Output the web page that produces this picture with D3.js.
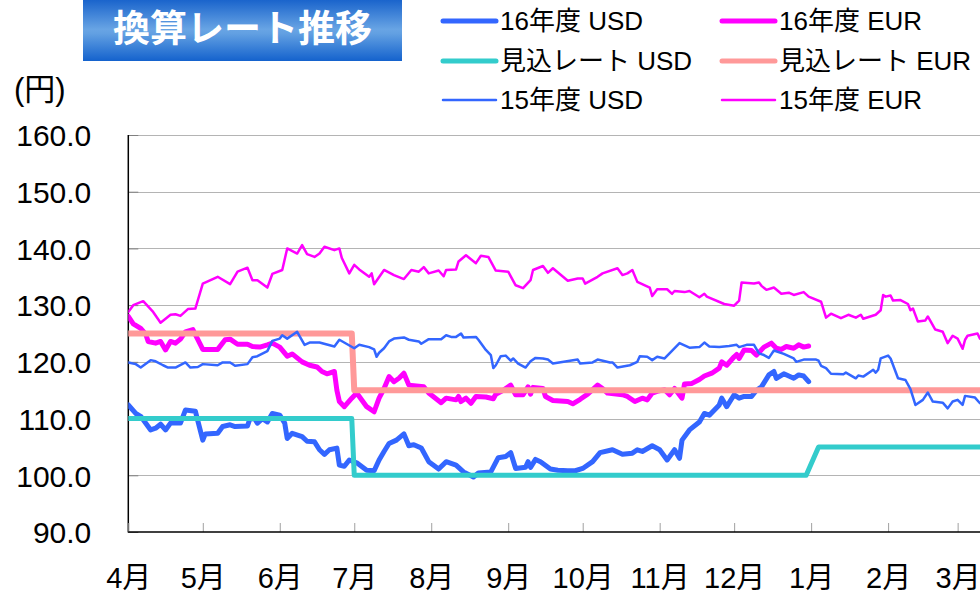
<!DOCTYPE html>
<html><head><meta charset="utf-8">
<script src="https://cdn.jsdelivr.net/npm/d3@7/dist/d3.min.js"></script>
<style>
html,body{margin:0;padding:0;background:#fff;}
svg{display:block;}
text{font-family:"Liberation Sans","Noto Sans CJK JP",Arial,sans-serif;fill:#000;}
</style></head>
<body><svg id="c" width="980" height="596"></svg>
<script>
// ---- data (MM-DD within fiscal year Apr 2016 - Mar 2017) ----
const monthLabels = ["4月","5月","6月","7月","8月","9月","10月","11月","12月","1月","2月","3月"];
const yTicks = [90,100,110,120,130,140,150,160];
const titleText = "換算レート推移";
const unitText = "(円)";

const usd16 = [["04-01",112.4],["04-04",110.9],["04-06",110.4],["04-10",108.0],["04-12",108.3],["04-14",109.0],["04-16",108.0],["04-18",109.2],["04-22",109.2],["04-24",111.5],["04-28",111.3],["05-01",106.2],["05-02",107.3],["05-07",107.4],["05-09",108.6],["05-12",108.9],["05-14",108.6],["05-19",108.7],["05-20",110.0],["05-22",109.9],["05-23",109.2],["05-25",110.0],["05-27",109.4],["05-29",110.9],["06-01",110.6],["06-03",109.2],["06-04",106.5],["06-06",107.4],["06-10",106.8],["06-12",106.0],["06-15",105.9],["06-17",104.5],["06-19",103.7],["06-21",104.5],["06-24",104.8],["06-25",101.8],["06-27",101.6],["06-29",102.7],["07-02",102.2],["07-06",100.9],["07-09",100.8],["07-11",102.7],["07-13",104.2],["07-15",105.6],["07-18",106.2],["07-21",107.3],["07-23",105.2],["07-25",105.4],["07-28",104.8],["07-31",102.4],["08-04",101.1],["08-07",102.4],["08-11",101.8],["08-14",100.6],["08-18",99.7],["08-20",100.4],["08-25",100.6],["08-28",103.1],["08-31",103.3],["09-02",104.0],["09-04",101.2],["09-08",101.4],["09-09",102.4],["09-10",101.4],["09-12",102.8],["09-14",102.4],["09-18",101.1],["09-21",100.9],["09-25",100.8],["09-28",100.8],["10-01",101.2],["10-05",102.4],["10-08",104.0],["10-13",104.5],["10-17",103.7],["10-21",103.9],["10-23",104.5],["10-25",104.2],["10-29",105.2],["11-01",104.5],["11-04",102.7],["11-07",104.5],["11-09",103.0],["11-10",106.2],["11-13",108.0],["11-17",109.4],["11-19",110.9],["11-21",110.6],["11-25",112.4],["11-26",113.6],["11-28",112.1],["12-01",114.2],["12-03",113.6],["12-05",113.9],["12-08",113.9],["12-10",115.0],["12-12",115.6],["12-15",117.7],["12-17",118.3],["12-18",117.1],["12-21",117.9],["12-25",117.1],["12-27",117.7],["12-29",117.5],["12-31",116.5]];

const eur16 = [["04-01",128.0],["04-03",126.7],["04-06",125.9],["04-08",124.9],["04-09",123.6],["04-12",123.3],["04-14",123.6],["04-16",122.1],["04-18",123.6],["04-20",123.3],["04-22",124.0],["04-24",125.3],["04-27",125.7],["05-01",122.2],["05-07",122.2],["05-10",123.9],["05-12",124.0],["05-15",123.1],["05-19",123.1],["05-21",122.7],["05-24",122.6],["05-27",123.0],["05-29",123.3],["06-01",122.6],["06-04",121.0],["06-06",121.4],["06-10",120.0],["06-13",119.4],["06-16",119.1],["06-18",118.3],["06-20",117.9],["06-23",118.3],["06-24",115.0],["06-25",113.0],["06-27",112.1],["06-30",113.6],["07-02",114.5],["07-06",112.1],["07-09",111.2],["07-11",113.6],["07-13",115.3],["07-15",117.4],["07-17",116.5],["07-19",117.1],["07-21",118.0],["07-23",115.9],["07-27",115.7],["07-29",115.6],["07-31",114.5],["08-05",112.8],["08-07",113.6],["08-11",113.3],["08-12",113.9],["08-13",113.0],["08-15",113.6],["08-17",112.7],["08-19",113.9],["08-23",113.8],["08-26",113.5],["08-27",114.3],["08-30",115.0],["09-02",115.9],["09-04",114.2],["09-07",114.2],["09-09",115.6],["09-10",114.3],["09-11",115.5],["09-15",115.3],["09-16",113.9],["09-19",113.2],["09-25",113.0],["09-27",112.6],["09-30",113.4],["10-03",114.3],["10-07",115.9],["10-09",115.3],["10-11",114.5],["10-17",114.2],["10-19",113.9],["10-22",113.0],["10-25",113.6],["10-27",113.3],["10-29",114.5],["10-31",114.8],["11-03",115.1],["11-05",114.2],["11-07",115.3],["11-10",113.6],["11-11",116.1],["11-14",116.2],["11-17",116.9],["11-19",117.5],["11-22",118.0],["11-25",118.9],["11-26",120.0],["11-28",119.4],["12-01",120.9],["12-02",121.3],["12-03",120.6],["12-05",122.1],["12-08",122.0],["12-10",121.2],["12-13",122.6],["12-16",123.3],["12-18",122.4],["12-20",122.2],["12-22",122.7],["12-25",122.4],["12-27",123.0],["12-29",122.6],["12-31",122.8]];

const usdPlan = [["04-01",110],["06-30",110],["07-01",100],["12-30",100],["01-04",105],["03-31",105]];
const eurPlan = [["04-01",125],["06-30",125],["07-01",115],["03-31",115]];

const usd15 = [["04-01",119.9],["04-04",119.6],["04-06",119.0],["04-10",120.3],["04-12",120.1],["04-15",119.4],["04-17",119.0],["04-20",119.0],["04-24",119.9],["04-26",119.0],["04-29",119.1],["05-01",119.6],["05-07",119.4],["05-09",119.9],["05-12",119.9],["05-14",119.3],["05-19",119.6],["05-21",120.8],["05-23",121.0],["05-27",121.9],["05-29",123.7],["06-01",124.1],["06-02",124.7],["06-04",124.1],["06-08",125.3],["06-11",123.0],["06-13",123.4],["06-17",123.4],["06-23",122.7],["06-25",123.9],["07-01",122.4],["07-03",123.0],["07-07",122.6],["07-09",122.2],["07-10",120.9],["07-11",121.6],["07-13",122.4],["07-15",123.6],["07-17",124.1],["07-21",124.3],["07-23",123.9],["07-27",123.6],["07-28",123.2],["07-31",124.0],["08-05",124.0],["08-07",124.7],["08-09",124.4],["08-11",124.4],["08-13",125.0],["08-14",124.3],["08-19",124.4],["08-20",123.9],["08-23",122.1],["08-25",121.2],["08-26",118.9],["08-27",119.4],["08-29",121.0],["08-31",121.1],["09-02",120.2],["09-03",120.6],["09-05",119.7],["09-08",119.0],["09-10",120.1],["09-12",120.7],["09-15",120.6],["09-17",120.4],["09-19",119.7],["09-29",120.4],["09-30",119.7],["10-05",119.9],["10-07",120.4],["10-12",119.9],["10-13",119.9],["10-15",119.0],["10-20",119.4],["10-23",120.0],["10-24",121.0],["10-27",120.9],["10-29",120.3],["10-31",120.9],["11-03",120.6],["11-09",123.3],["11-13",122.5],["11-17",122.6],["11-19",123.4],["11-21",122.7],["11-25",122.6],["11-29",122.8],["12-02",123.0],["12-03",122.6],["12-06",123.0],["12-09",123.0],["12-11",121.5],["12-13",121.2],["12-15",120.7],["12-17",122.0],["12-21",121.4],["12-25",120.6],["12-26",120.0],["12-29",120.4],["01-03",120.4],["01-04",120.2],["01-05",119.3],["01-07",118.9],["01-09",117.9],["01-14",117.8],["01-15",118.1],["01-19",117.1],["01-20",117.6],["01-22",117.4],["01-25",118.3],["01-26",118.6],["01-27",118.1],["01-28",118.6],["01-29",120.6],["02-01",121.1],["02-02",120.6],["02-05",117.1],["02-08",116.8],["02-10",115.2],["02-12",112.4],["02-15",113.3],["02-17",114.6],["02-19",113.0],["02-23",112.8],["02-25",111.8],["02-27",113.0],["03-01",113.3],["03-03",112.4],["03-04",114.0],["03-08",113.7],["03-10",112.7],["03-13",113.0]];

const eur15 = [["04-01",128.8],["04-03",130.0],["04-07",130.7],["04-11",128.8],["04-14",126.9],["04-18",128.3],["04-20",128.4],["04-22",128.1],["04-25",129.3],["04-28",129.4],["05-01",133.8],["05-07",135.0],["05-12",133.7],["05-15",135.9],["05-19",136.6],["05-21",134.4],["05-23",134.4],["05-27",133.1],["05-29",135.5],["06-02",136.2],["06-04",140.0],["06-08",139.1],["06-10",140.6],["06-12",139.0],["06-15",138.5],["06-17",139.1],["06-19",140.3],["06-23",139.7],["06-25",140.0],["06-26",138.3],["06-29",135.6],["07-01",137.1],["07-03",136.3],["07-07",135.0],["07-08",135.6],["07-09",133.7],["07-13",136.2],["07-17",135.3],["07-21",134.6],["07-24",136.2],["07-27",135.9],["07-29",136.7],["07-31",135.6],["08-04",136.1],["08-06",135.1],["08-07",136.2],["08-11",136.3],["08-12",137.7],["08-15",138.8],["08-19",137.4],["08-21",138.7],["08-24",138.5],["08-27",136.1],["09-01",135.9],["09-04",133.5],["09-07",133.0],["09-10",134.4],["09-11",136.2],["09-15",136.9],["09-17",135.7],["09-19",136.5],["09-25",134.3],["09-29",134.7],["10-01",134.7],["10-02",133.8],["10-07",135.0],["10-09",135.6],["10-15",136.5],["10-17",135.3],["10-19",135.6],["10-21",136.2],["10-23",134.1],["10-28",133.1],["10-29",131.6],["10-31",132.8],["11-04",132.8],["11-06",132.0],["11-07",132.5],["11-11",132.3],["11-13",132.5],["11-17",131.4],["11-19",132.0],["11-20",131.5],["11-27",130.2],["12-01",129.9],["12-03",130.8],["12-04",134.0],["12-09",133.8],["12-11",134.0],["12-12",133.4],["12-14",132.7],["12-17",133.1],["12-20",132.0],["12-23",132.2],["12-25",131.8],["12-29",132.3],["12-31",131.5],["01-05",130.6],["01-07",127.8],["01-09",128.5],["01-13",127.7],["01-16",128.3],["01-19",127.8],["01-21",128.3],["01-22",127.6],["01-27",128.3],["01-29",129.1],["01-30",131.8],["01-31",131.5],["02-02",131.7],["02-03",130.8],["02-06",130.9],["02-09",130.2],["02-10",129.1],["02-11",129.4],["02-13",127.1],["02-16",127.3],["02-17",128.0],["02-20",125.7],["02-23",125.3],["02-25",123.3],["02-27",124.6],["03-01",124.1],["03-03",122.3],["03-04",123.9],["03-05",124.6],["03-09",125.0],["03-10",124.1],["03-13",124.5]];

const seriesNames = ["16年度 USD","16年度 EUR","見込レート USD","見込レート EUR","15年度 USD","15年度 EUR"];
const seriesData = [usd16, eur16, usdPlan, eurPlan, usd15, eur15];
const seriesColors = ["#3366ff","#ff00ff","#33cccc","#ff9999","#3366ff","#ff00ff"];
const seriesWidths = [5, 5, 5, 6, 2.5, 2.5];

// ---- chart ----
const svg = d3.select("#c");
const parse = s => { const [m, d] = s.split("-").map(Number); return new Date(Date.UTC(m >= 4 ? 2016 : 2017, m - 1, d)); };
const x = d3.scaleUtc().domain([new Date(Date.UTC(2016,3,1)), new Date(Date.UTC(2017,3,1))]).range([128.3, 1034.6]);
const y = d3.scaleLinear().domain([90,160]).range([532,135]);
const plotRight = 980;

const defs = svg.append("defs");
const grad = defs.append("linearGradient").attr("id","tg").attr("x1",0).attr("y1",0).attr("x2",0).attr("y2",1);
[[0,"#1a64cc"],[0.48,"#68a4e4"],[0.55,"#62a0e2"],[1,"#1462cd"]].forEach(([o,c])=>grad.append("stop").attr("offset",o).attr("stop-color",c));
defs.append("clipPath").attr("id","clip").append("rect").attr("x",128.3).attr("y",120).attr("width",plotRight-128.3).attr("height",420);

// title box
svg.append("rect").attr("x",83).attr("y",0).attr("width",319).attr("height",61).attr("fill","url(#tg)");
svg.append("text").attr("x",242.5).attr("y",26).attr("text-anchor","middle").attr("dominant-baseline","central")
  .style("font-family","'Noto Sans CJK JP',sans-serif").style("font-weight","bold").style("font-size","37px").style("fill","#fff")
  .text(titleText);
svg.append("text").attr("x",14).attr("y",100).style("font-size","31px").text(unitText);

// gridlines
svg.append("g").selectAll("line").data(yTicks.filter(v=>v>90)).join("line")
  .attr("x1",128.3).attr("x2",plotRight).attr("y1",d=>Math.round(y(d))+0.5).attr("y2",d=>Math.round(y(d))+0.5)
  .attr("stroke","#b4b4b4").attr("stroke-width",1);

// y axis
const yAxis = d3.axisRight(y).tickValues(yTicks).tickSize(10).tickFormat(d3.format(".1f"));
const yg = svg.append("g").attr("transform","translate(128.3,0)").call(yAxis);
yg.select(".domain").remove();
yg.selectAll(".tick line").attr("stroke","#808080");
yg.selectAll(".tick text").attr("x",-37).attr("text-anchor","end").attr("dy","0.36em").style("font-size","30px").style("font-family","'Liberation Sans',Arial,sans-serif");
svg.append("line").attr("x1",128.3).attr("x2",128.3).attr("y1",135).attr("y2",532.5).attr("stroke","#000").attr("stroke-width",1.5);

// x axis
const months = d3.utcMonth.range(new Date(Date.UTC(2016,3,1)), new Date(Date.UTC(2017,3,1)));
const xAxis = d3.axisTop(x).tickValues(months).tickSize(9).tickFormat((d,i)=>monthLabels[i]);
const xg = svg.append("g").attr("transform","translate(0,532)").call(xAxis);
xg.select(".domain").remove();
xg.selectAll(".tick line").attr("stroke","#a0a0a0");
xg.selectAll(".tick text").attr("y",56).attr("dy",0).style("font-size","29px");
svg.append("line").attr("x1",128.3).attr("x2",plotRight).attr("y1",532).attr("y2",532).attr("stroke","#000").attr("stroke-width",1.5);

// lines
const line = d3.line().x(d=>x(parse(d[0]))).y(d=>y(d[1]));
const lg = svg.append("g").attr("clip-path","url(#clip)");
seriesData.forEach((s,i)=>{
  lg.append("path").datum(s).attr("d",line).attr("fill","none")
    .attr("stroke",seriesColors[i]).attr("stroke-width",seriesWidths[i])
    .attr("stroke-linejoin","round").attr("stroke-linecap","round");
});

// legend
const legPos = [[443,21],[722,21],[443,61],[722,61],[443,100],[722,100]];
seriesNames.forEach((n,i)=>{
  const [lx,ly] = legPos[i];
  svg.append("line").attr("x1",lx).attr("x2",lx+53).attr("y1",ly).attr("y2",ly)
    .attr("stroke",seriesColors[i]).attr("stroke-width",seriesWidths[i]<4?2.5:5).attr("stroke-linecap","round");
  svg.append("text").attr("x",lx+57).attr("y",ly).attr("dy","0.36em").style("font-size","26px").text(n);
});
</script></body></html>
